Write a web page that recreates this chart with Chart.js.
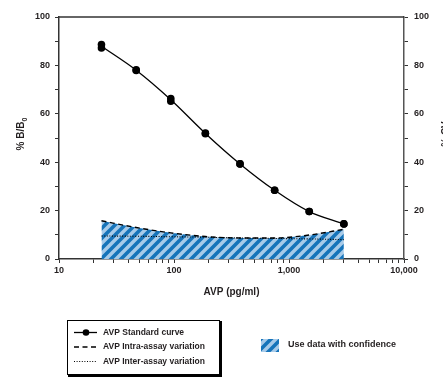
<!DOCTYPE html>
<html>
<head>
<meta charset="utf-8">
<script src="https://cdn.jsdelivr.net/npm/chart.js@4"></script>
<style>
  html, body { margin: 0; padding: 0; background: #fff; overflow: hidden; }
  #wrap { width: 443px; height: 377px; }
</style>
</head>
<body>
<div id="wrap"><canvas id="avpChart" width="443" height="377"></canvas></div>
<script>
// AVP standard concentrations (pg/ml), serial 1:2 dilutions
const concentrations = [23.4, 46.9, 93.8, 187.5, 375, 750, 1500, 3000];
// %B/B0, two replicates and the fitted curve
const replicateA = [88.6, 78.2, 66.3, 52.0, 39.3, 28.4, 19.6, 14.5];
const replicateB = [87.2, 77.9, 65.2, 51.8, 39.3, 28.4, 19.6, 14.5];
const standardCurve = [87.9, 78.0, 65.8, 51.9, 39.3, 28.4, 19.6, 14.5];
// %CV
const intraCV = [15.8, 13.0, 10.8, 9.3, 8.7, 8.7, 9.9, 12.3];
const interCV = [9.5, 9.4, 9.2, 9.0, 8.7, 8.5, 8.3, 8.0];
// axis ticks
const xTickValues = [10, 20, 30, 40, 50, 60, 70, 80, 90,
                     100, 200, 300, 400, 500, 600, 700, 800, 900,
                     1000, 2000, 3000, 4000, 5000, 6000, 7000, 8000, 9000, 10000];
const xTickLabels = { 10: '10', 100: '100', 1000: '1,000', 10000: '10,000' };

const FONT = "'Liberation Sans', Arial, sans-serif";
const TEXT = '#231f20';
const AXIS = '#333333';

function makeHatch() {
    const c = document.createElement('canvas');
    c.width = 10;
    c.height = 10;
    const g = c.getContext('2d');
    g.fillStyle = '#a8cbe9';
    g.fillRect(0, 0, 10, 10);
    g.strokeStyle = '#1674ba';
    g.lineWidth = 3.6;
    g.lineCap = 'square';
    [[-10, 10, 10, -10], [0, 10, 10, 0], [0, 20, 20, 0]].forEach(s => {
        g.beginPath();
        g.moveTo(s[0], s[1]);
        g.lineTo(s[2], s[3]);
        g.stroke();
    });
    return g.createPattern(c, 'repeat');
}

const ctx = document.getElementById('avpChart').getContext('2d');
const hatch = makeHatch();

const pts = arr => concentrations.map((x, i) => ({ x: x, y: arr[i] }));

// titles, top frame and the legend below the plot
const extras = {
    id: 'extras',
    afterDraw(chart) {
        const c = chart.ctx;
        const a = chart.chartArea;
        c.save();
        // top frame
        c.strokeStyle = AXIS;
        c.lineWidth = 1.5;
        c.beginPath();
        c.moveTo(a.left, a.top);
        c.lineTo(a.right, a.top);
        c.stroke();

        c.fillStyle = TEXT;
        // left title  %B/B0
        const midY = (a.top + a.bottom) / 2 - 4;
        c.save();
        c.translate(24, midY);
        c.rotate(-Math.PI / 2);
        c.font = 'bold 10px ' + FONT;
        c.textBaseline = 'alphabetic';
        const main = '% B/B';
        const w = c.measureText(main).width;
        c.font = 'bold 7px ' + FONT;
        const sw = c.measureText('0').width;
        let sx = -(w + sw) / 2;
        c.font = 'bold 10px ' + FONT;
        c.textAlign = 'left';
        c.fillText(main, sx, 0);
        c.font = 'bold 7px ' + FONT;
        c.fillText('0', sx + w, 2.5);
        c.restore();

        // right title, cut by the page edge
        c.save();
        c.translate(446, midY);
        c.rotate(-Math.PI / 2);
        c.font = 'bold 10px ' + FONT;
        c.textAlign = 'center';
        c.textBaseline = 'middle';
        c.fillText('% CV', 0, 0);
        c.restore();

        // legend box
        c.fillStyle = '#000';
        c.fillRect(68, 321, 154, 56);
        c.fillStyle = '#fff';
        c.fillRect(67.5, 320.5, 152, 54);
        c.strokeStyle = '#000';
        c.lineWidth = 1;
        c.strokeRect(67.5, 320.5, 152, 54);

        const rows = [
            { y: 332.5, label: 'AVP Standard curve', dash: [], dot: true, width: 1.3 },
            { y: 347, label: 'AVP Intra-assay variation', dash: [5, 3.5], dot: false, width: 1.3 },
            { y: 361.5, label: 'AVP Inter-assay variation', dash: [1, 1.6], dot: false, width: 1 }
        ];
        rows.forEach(r => {
            c.strokeStyle = '#000';
            c.lineWidth = r.width;
            c.setLineDash(r.dash);
            c.beginPath();
            c.moveTo(74, r.y);
            c.lineTo(97, r.y);
            c.stroke();
            c.setLineDash([]);
            if (r.dot) {
                c.fillStyle = '#000';
                c.beginPath();
                c.arc(86, r.y, 3.3, 0, Math.PI * 2);
                c.fill();
            }
            c.fillStyle = TEXT;
            c.font = 'bold 8.5px ' + FONT;
            c.textAlign = 'left';
            c.textBaseline = 'middle';
            c.fillText(r.label, 103, r.y);
        });

        // confidence swatch
        c.fillStyle = hatch;
        c.fillRect(261, 339, 18, 13);
        c.fillStyle = TEXT;
        c.font = 'bold 9px ' + FONT;
        c.textBaseline = 'middle';
        c.fillText('Use data with confidence', 288, 345);
        c.restore();
    }
};

new Chart(ctx, {
    type: 'line',
    data: {
        datasets: [
            {
                label: 'AVP Standard curve',
                data: pts(standardCurve),
                borderColor: '#000',
                borderWidth: 1.3,
                pointRadius: 0,
                tension: 0.4,
                cubicInterpolationMode: 'monotone',
                fill: false,
                yAxisID: 'y',
                order: 2
            },
            {
                label: 'Replicate A',
                data: pts(replicateA),
                showLine: false,
                pointRadius: 3.8,
                pointBackgroundColor: '#000',
                pointBorderWidth: 0,
                yAxisID: 'y',
                order: 0
            },
            {
                label: 'Replicate B',
                data: pts(replicateB),
                showLine: false,
                pointRadius: 3.8,
                pointBackgroundColor: '#000',
                pointBorderWidth: 0,
                yAxisID: 'y',
                order: 1
            },
            {
                label: 'AVP Inter-assay variation',
                data: pts(interCV),
                borderColor: '#000',
                borderWidth: 1.1,
                borderDash: [1, 1.6],
                pointRadius: 0,
                tension: 0.4,
                fill: false,
                yAxisID: 'y1',
                order: 3
            },
            {
                label: 'AVP Intra-assay variation',
                data: pts(intraCV),
                borderColor: '#000',
                borderWidth: 1.4,
                borderDash: [5, 3.5],
                backgroundColor: hatch,
                pointRadius: 0,
                tension: 0.4,
                cubicInterpolationMode: 'monotone',
                fill: 'origin',
                yAxisID: 'y1',
                order: 4
            }
        ]
    },
    options: {
        responsive: false,
        animation: false,
        layout: { padding: { left: 0, right: 0, top: 17, bottom: 73 } },
        plugins: {
            legend: { display: false },
            tooltip: { enabled: false }
        },
        scales: {
            x: {
                type: 'logarithmic',
                min: 10,
                max: 10000,
                afterBuildTicks: s => { s.ticks = xTickValues.map(v => ({ value: v })); },
                afterFit: s => { s.height = 45; },
                ticks: {
                    autoSkip: false,
                    maxRotation: 0,
                    padding: 2,
                    color: TEXT,
                    font: { family: FONT, size: 9, weight: 'bold' },
                    callback: v => xTickLabels[v] || ''
                },
                grid: { drawOnChartArea: false, tickLength: 4, color: AXIS, lineWidth: 1 },
                border: { color: AXIS, width: 1.5 },
                title: {
                    display: true,
                    text: 'AVP (pg/ml)',
                    color: TEXT,
                    font: { family: FONT, size: 10, weight: 'bold' },
                    padding: { top: 0, bottom: 6 }
                }
            },
            y: {
                position: 'left',
                min: 0,
                max: 100,
                afterFit: s => { s.width = 59; },
                ticks: {
                    stepSize: 10,
                    padding: 5,
                    color: TEXT,
                    font: { family: FONT, size: 9, weight: 'bold' },
                    callback: v => (v % 20 === 0 ? v : '')
                },
                grid: { drawOnChartArea: false, tickLength: 4, color: AXIS, lineWidth: 1 },
                border: { color: AXIS, width: 1.5 }
            },
            y1: {
                position: 'right',
                min: 0,
                max: 100,
                afterFit: s => { s.width = 39; },
                ticks: {
                    stepSize: 10,
                    padding: 6,
                    color: TEXT,
                    font: { family: FONT, size: 9, weight: 'bold' },
                    callback: v => (v % 20 === 0 ? v : '')
                },
                grid: { drawOnChartArea: false, tickLength: 4, color: AXIS, lineWidth: 1 },
                border: { color: '#555', width: 1.5 }
            }
        }
    },
    plugins: [extras]
});
</script>
</body>
</html>
